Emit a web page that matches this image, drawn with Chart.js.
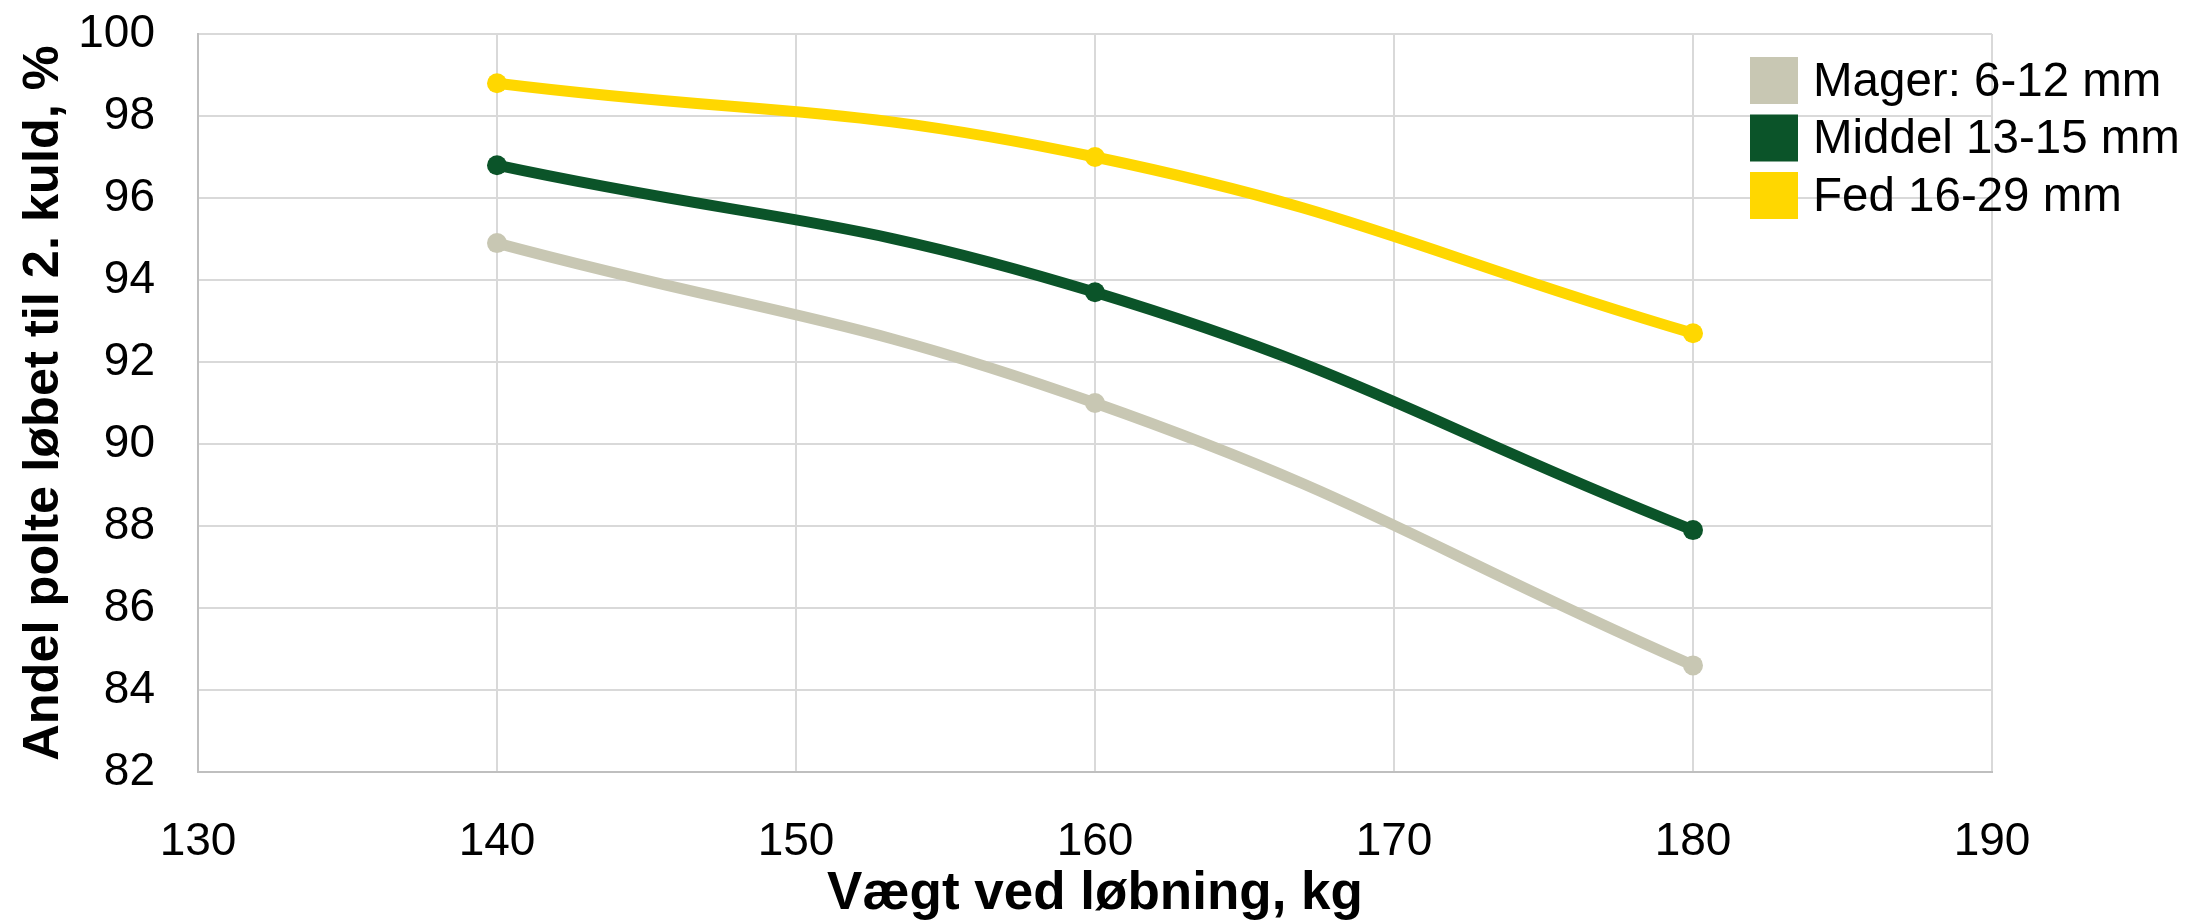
<!DOCTYPE html>
<html>
<head>
<meta charset="utf-8">
<script src="https://cdn.jsdelivr.net/npm/chart.js@4/dist/chart.umd.min.js"></script>
<style>
  html, body { margin: 0; padding: 0; background: #ffffff; }
  #wrap { width: 2187px; height: 923px; }
</style>
</head>
<body>
<div id="wrap"><canvas id="c" width="2187" height="923"></canvas></div>
<script>
// ---- data ----
const weights = [140, 160, 180];
const mager = [94.9, 91.0, 84.6];
const middel = [96.8, 93.7, 87.9];
const fed = [98.8, 97.0, 92.7];
const seriesLabels = ['Mager: 6-12 mm', 'Middel 13-15 mm', 'Fed 16-29 mm'];
const seriesColors = ['#C8C7B3', '#0B5429', '#FFD700'];
const xAxisTitle = 'Vægt ved løbning, kg';
const yAxisTitle = 'Andel polte løbet til 2. kuld, %';
const xMin = 130, xMax = 190, xStep = 10;
const yMin = 82, yMax = 100, yStep = 2;

const FONT = "'Liberation Sans', Arial, sans-serif";

function toPoints(vals) {
  return weights.map((w, i) => ({ x: w, y: vals[i] }));
}
const seriesValues = [mager, middel, fed];

const datasets = seriesValues.map((vals, i) => ({
  label: seriesLabels[i],
  data: toPoints(vals),
  borderColor: seriesColors[i],
  backgroundColor: seriesColors[i],
  pointBackgroundColor: seriesColors[i],
  pointBorderColor: seriesColors[i],
  borderWidth: 11,
  pointRadius: 10,
  pointBorderWidth: 0,
  tension: 0.45,
  clip: false
}));

const legendPlugin = {
  id: 'insideLegend',
  afterDraw(chart) {
    const ctx = chart.ctx;
    ctx.save();
    const boxX = 1750, boxW = 48, boxH = 47;
    const firstTop = 57, step = 57.5;
    ctx.font = '47.5px ' + FONT;
    ctx.textBaseline = 'middle';
    ctx.textAlign = 'left';
    chart.data.datasets.forEach((ds, i) => {
      const top = firstTop + i * step;
      ctx.fillStyle = ds.borderColor;
      ctx.fillRect(boxX, top, boxW, boxH);
      ctx.fillStyle = '#000000';
      ctx.fillText(ds.label, 1813, top + boxH / 2 + 2);
    });
    ctx.restore();
  }
};

new Chart(document.getElementById('c'), {
  type: 'line',
  data: { datasets },
  plugins: [legendPlugin],
  options: {
    responsive: false,
    animation: false,
    devicePixelRatio: 1,
    layout: { padding: { top: 34, right: 195, left: 0, bottom: 0 } },
    plugins: {
      legend: { display: false },
      tooltip: { enabled: false }
    },
    scales: {
      x: {
        type: 'linear',
        min: xMin, max: xMax,
        ticks: {
          stepSize: xStep,
          padding: 43,
          color: '#000000',
          font: { family: FONT, size: 46 },
          maxRotation: 0
        },
        grid: { color: '#D9D9D9', lineWidth: 2, drawTicks: false },
        border: { color: '#BFBFBF', width: 2 },
        title: {
          display: true,
          text: xAxisTitle,
          color: '#000000',
          font: { family: FONT, size: 53, weight: 'bold' },
          padding: { top: 0, bottom: -3 }
        },
        afterFit(scale) {
          scale.height = 151;
          scale.paddingLeft = 0;
          scale.paddingRight = 0;
        }
      },
      y: {
        type: 'linear',
        min: yMin, max: yMax,
        ticks: {
          stepSize: yStep,
          padding: 43,
          color: '#000000',
          font: { family: FONT, size: 46 }
        },
        grid: { color: '#D9D9D9', lineWidth: 2, drawTicks: false },
        border: { color: '#BFBFBF', width: 2 },
        title: {
          display: true,
          text: yAxisTitle,
          color: '#000000',
          font: { family: FONT, size: 50.5, weight: 'bold' },
          padding: { top: 14, bottom: 0 }
        },
        afterFit(scale) {
          scale.width = 198;
          scale.paddingTop = 0;
          scale.paddingBottom = 0;
        }
      }
    }
  }
});
</script>
</body>
</html>
